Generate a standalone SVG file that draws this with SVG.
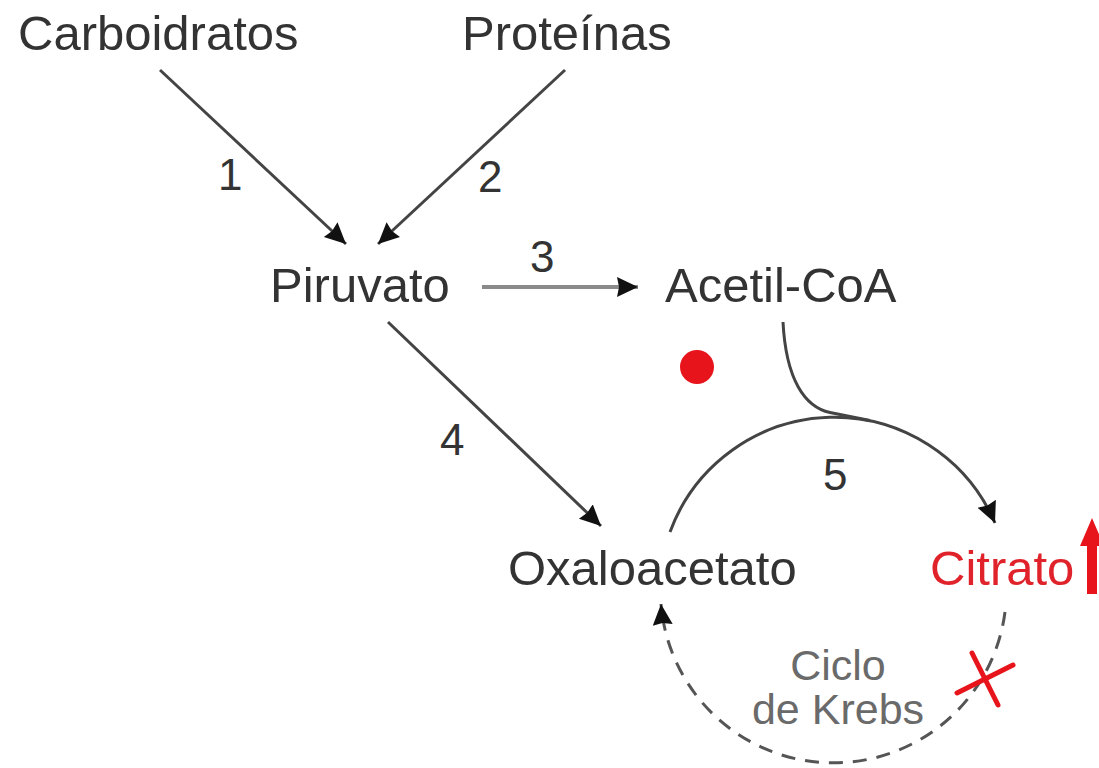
<svg xmlns="http://www.w3.org/2000/svg" width="1099" height="768" viewBox="0 0 1099 768">
<style>
.t{font-family:"Liberation Sans",Arial,sans-serif;font-size:49px;fill:#333}
.n{font-family:"Liberation Sans",Arial,sans-serif;font-size:44px;fill:#333}
.k{font-family:"Liberation Sans",Arial,sans-serif;font-size:43px;fill:#6a6a6a;text-anchor:middle}
.c{fill:none;stroke:#444;stroke-width:3}
</style>
<defs>
<marker id="ah" markerUnits="userSpaceOnUse" markerWidth="24" markerHeight="22" refX="21" refY="10" orient="auto">
<path d="M0,0 L21,10 L0,20 L2,10 z" fill="#111"/>
</marker>
</defs>
<rect width="1099" height="768" fill="#fff"/>
<g id="connectors">
<line class="c" x1="160" y1="70" x2="346" y2="244" marker-end="url(#ah)"/>
<line class="c" x1="565" y1="70" x2="378" y2="244" marker-end="url(#ah)"/>
<line x1="482" y1="287" x2="638" y2="287" stroke="#8a8a8a" stroke-width="4" marker-end="url(#ah)"/>
<line class="c" x1="388" y1="322" x2="601" y2="526" marker-end="url(#ah)"/>
<path class="c" d="M670 532 A175 175 0 0 1 995 523" marker-end="url(#ah)"/>
<path class="c" d="M783 322 C786 380 805 407 830 412.5 L870 420.5"/>
<path d="M1005 612 A173 173 0 0 1 661 604" fill="none" stroke="#555" stroke-width="3" stroke-dasharray="14 10" marker-end="url(#ah)"/>
</g>
<g id="carboidratos"><text class="t" x="18" y="50">Carboidratos</text></g>
<g id="proteinas"><text class="t" x="462" y="50">Proteínas</text></g>
<g id="piruvato"><text class="t" x="270" y="302">Piruvato</text></g>
<g id="acetilcoa"><text class="t" x="665" y="302">Acetil-CoA</text></g>
<g id="oxaloacetato"><text class="t" x="508" y="585">Oxaloacetato</text></g>
<g id="citrato"><text class="t" x="930" y="585" style="fill:#e0232b">Citrato</text>
<path d="M1092 518 L1104 546 L1097 546 L1097 594 L1087 594 L1087 546 L1080 546 z" fill="#e8141c"/></g>
<g id="labels">
<text class="n" x="218" y="190">1</text>
<text class="n" x="478" y="192">2</text>
<text class="n" x="530" y="272">3</text>
<text class="n" x="440" y="455">4</text>
<text class="n" x="823" y="490">5</text>
</g>
<g id="krebs"><text class="k" x="838" y="680">Ciclo</text><text class="k" x="838" y="724">de Krebs</text></g>
<g id="dot"><circle cx="697" cy="367" r="17" fill="#e8141c"/></g>
<g id="block" stroke="#e8141c" stroke-width="5" stroke-linecap="round">
<line x1="972" y1="653" x2="998" y2="705"/>
<line x1="957" y1="693" x2="1013" y2="665"/>
</g>
</svg>
